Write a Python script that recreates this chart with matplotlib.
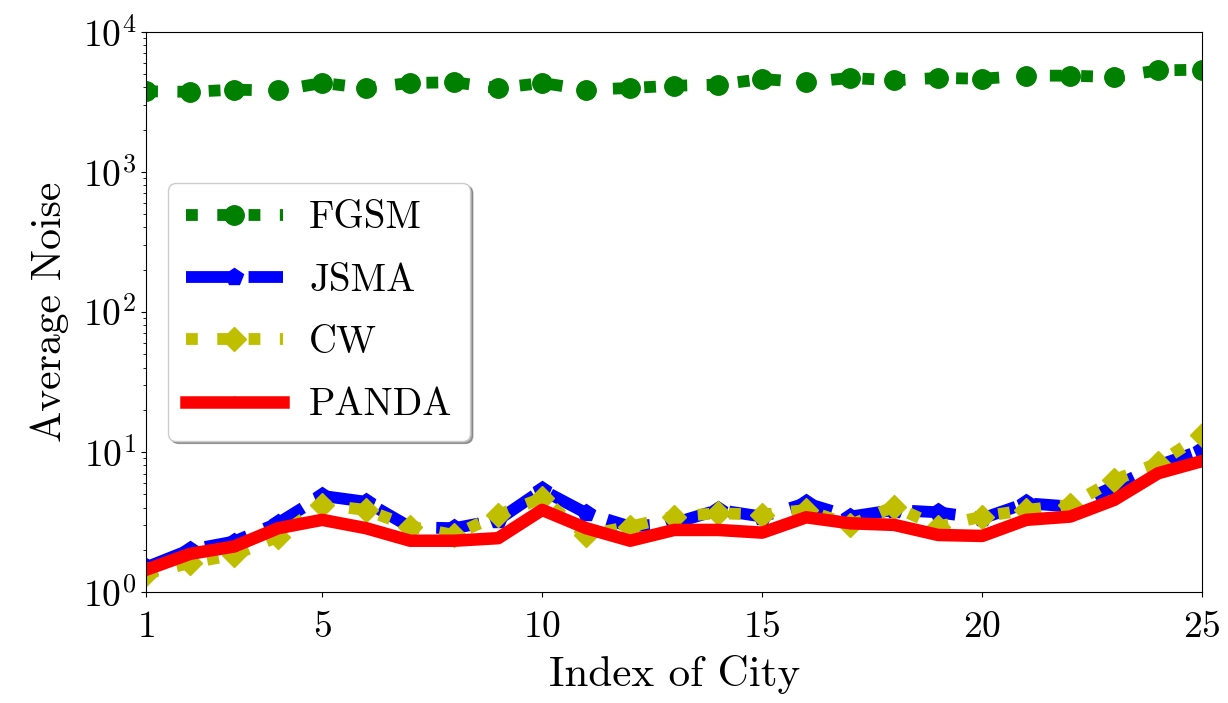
import matplotlib.pyplot as plt
import numpy as np

plt.rcParams['font.family'] = 'serif'
plt.rcParams['font.serif'] = ['cmr10']
plt.rcParams['mathtext.fontset'] = 'cm'
plt.rcParams['axes.unicode_minus'] = False
plt.rcParams['axes.formatter.use_mathtext'] = True

# values
city = np.arange(1, 26)
fgsm = [3750, 3720, 3850, 3800, 4300, 3960, 4300, 4350, 3950, 4300,
        3850, 3960, 4110, 4180, 4590, 4350, 4670, 4490, 4670, 4610,
        4850, 4850, 4740, 5290, 5350]
jsma = [1.5, 2.0, 2.29, 3.1, 4.85, 4.4, 2.9, 2.85, 3.27, 5.35,
        3.65, 2.93, 3.1, 3.85, 3.45, 4.3, 3.45, 3.85, 3.7, 3.35,
        4.3, 4.07, 5.65, 8.0, 10.3]
cw = [1.35, 1.61, 1.84, 2.48, 4.18, 3.85, 2.93, 2.55, 3.55, 4.67,
      2.55, 2.93, 3.45, 3.65, 3.55, 3.85, 3.0, 4.07, 2.93, 3.45,
      3.85, 4.18, 6.3, 8.3, 13.2]
panda = [1.44, 1.87, 2.11, 2.85, 3.27, 2.85, 2.32, 2.32, 2.42, 3.85,
         2.85, 2.32, 2.77, 2.77, 2.65, 3.41, 3.09, 3.01, 2.55, 2.51,
         3.27, 3.45, 4.54, 7.04, 8.6]

fig = plt.figure(figsize=(12.28, 7.03), dpi=100)
ax = fig.add_axes([0.119, 0.158, 0.86, 0.797])

ax.plot(city, fgsm, color='g', linestyle=':', marker='o', lw=8.5, ms=14, label='FGSM')
ax.plot(city, jsma, color='b', linestyle='--', marker='p', lw=8.5, ms=13, label='JSMA')
ax.plot(city, cw, color='y', linestyle=':', marker='D', lw=8.5, ms=12, label='CW')
ax.plot(city, panda, color='r', linestyle='-', marker='*', lw=9, ms=8, label='PANDA')

ax.set_yscale('log')
ax.set_ylim(1, 1e4)
ax.set_xlim(1, 25)
ax.set_xticks([1, 5, 10, 15, 20, 25])
ax.tick_params(labelsize=27)
ax.tick_params(axis='x', pad=10)
ax.set_xlabel('Index of City', fontsize=31, labelpad=8)
ax.set_ylabel('Average Noise', fontsize=30, labelpad=10)

ax.legend(loc='center left', bbox_to_anchor=(0.021, 0.5), borderaxespad=0,
          fontsize=28, shadow=True, fancybox=True, handlelength=2.5,
          handletextpad=0.67, labelspacing=0.68, borderpad=0.45)

fig.savefig('out.png', dpi=100)
